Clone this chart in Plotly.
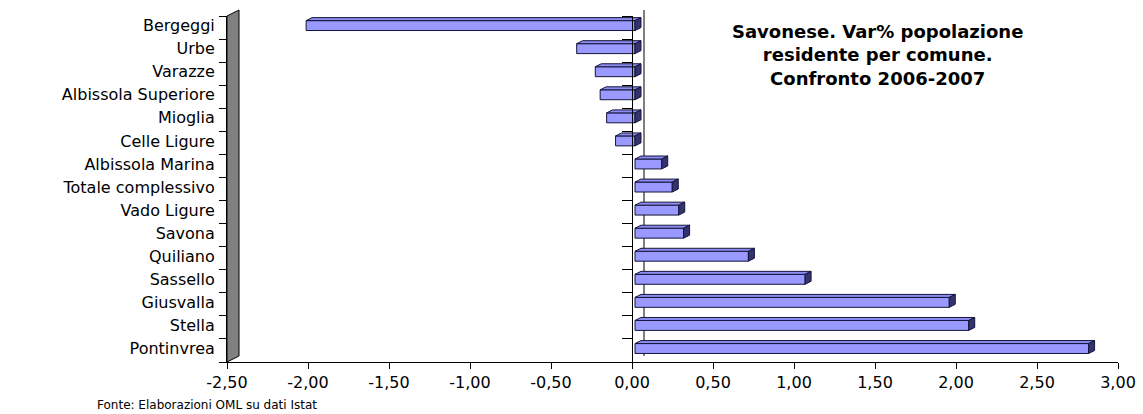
import plotly.graph_objects as go

# Data
comuni = ["Bergeggi", "Urbe", "Varazze", "Albissola Superiore", "Mioglia",
          "Celle Ligure", "Albissola Marina", "Totale complessivo", "Vado Ligure",
          "Savona", "Quiliano", "Sassello", "Giusvalla", "Stella", "Pontinvrea"]
var_pct = [-2.03, -0.36, -0.245, -0.215, -0.175, -0.12, 0.165, 0.23, 0.27,
           0.30, 0.70, 1.05, 1.94, 2.06, 2.80]
x_ticks = [-2.5, -2.0, -1.5, -1.0, -0.5, 0.0, 0.5, 1.0, 1.5, 2.0, 2.5, 3.0]
x_tick_labels = ["-2,50", "-2,00", "-1,50", "-1,00", "-0,50", "0,00",
                 "0,50", "1,00", "1,50", "2,00", "2,50", "3,00"]

title_text = "<b>Savonese. Var% popolazione<br>residente per comune.<br>Confronto 2006-2007</b>"
source_text = "Fonte: Elaborazioni OML su dati Istat"

# Geometry of the pseudo-3D look
W, H = 1143, 414
ML, MR, MT, MB = 227, 25, 16, 52
plot_w = W - ML - MR
plot_h = H - MT - MB
xmin, xmax = x_ticks[0], x_ticks[-1]
px_per_unit = plot_w / (xmax - xmin)
n = len(comuni)
px_per_cat = plot_h / n

wall_dx_px, wall_dy_px = 12, 6     # depth of back wall
bar_dx_px, bar_dy_px = 6, 3        # depth of each bar
plane_px = 3                       # bars sit slightly behind the front plane

ypos = list(range(n))
bar_w = 0.43
bar_off = -0.30
dx = bar_dx_px / px_per_unit
dy = bar_dy_px / px_per_cat
shift = plane_px / px_per_unit

FRONT = "#9999FF"
SIDE = "#333370"
TOP = "#8c8cf0"
EDGE = "#15153a"

fig = go.Figure()

# carrier for the labelled front axes
fig.add_trace(go.Scatter(
    x=var_pct, y=ypos, mode="none", xaxis="x", yaxis="y",
    showlegend=False, hoverinfo="skip",
))

fig.add_trace(go.Bar(
    x=var_pct, y=ypos, orientation="h", width=bar_w, offset=bar_off,
    marker=dict(color=FRONT, line=dict(color=EDGE, width=1)),
    xaxis="x2", yaxis="y", showlegend=False, hoverinfo="skip",
))

# top and side faces of each bar
top_x, top_y, side_x, side_y = [], [], [], []
for v, y in zip(var_pct, ypos):
    x0, x1 = min(0, v), max(0, v)
    yt = y + bar_off
    yb = yt + bar_w
    top_x += [x0, x0 + dx, x1 + dx, x1, x0, None]
    top_y += [yt, yt - dy, yt - dy, yt, yt, None]
    side_x += [x1, x1 + dx, x1 + dx, x1, x1, None]
    side_y += [yt, yt - dy, yb - dy, yb, yt, None]

fig.add_trace(go.Scatter(
    x=top_x, y=top_y, mode="lines", fill="toself", fillcolor=TOP,
    line=dict(color=EDGE, width=1), xaxis="x2", yaxis="y2",
    showlegend=False, hoverinfo="skip",
))
fig.add_trace(go.Scatter(
    x=side_x, y=side_y, mode="lines", fill="toself", fillcolor=SIDE,
    line=dict(color=EDGE, width=1), xaxis="x2", yaxis="y2",
    showlegend=False, hoverinfo="skip",
))

yrange = [n - 0.5, -0.5]
boundaries = [i - 0.5 for i in range(n + 1)]
label_pos = [y + bar_off + bar_w / 2 for y in ypos]
zero_frac = (0 - xmin) / (xmax - xmin)

font_family = "DejaVu Sans"

fig.update_layout(
    width=W, height=H,
    margin=dict(l=ML, r=MR, t=MT, b=MB, pad=0),
    paper_bgcolor="white", plot_bgcolor="white",
    showlegend=False,
    font=dict(family=font_family, color="black", size=16),
    xaxis=dict(
        range=[xmin, xmax], tickmode="array", tickvals=x_ticks, ticktext=x_tick_labels,
        ticks="outside", ticklen=6, tickcolor="black", tickwidth=1,
        showline=True, linecolor="black", linewidth=1,
        showgrid=False, zeroline=False, tickfont=dict(size=16),
        automargin=False,
    ),
    xaxis2=dict(
        range=[xmin - shift, xmax - shift], overlaying="x", visible=False,
        showgrid=False, zeroline=False,
    ),
    yaxis=dict(
        range=yrange, tickmode="array", tickvals=label_pos, ticktext=comuni,
        ticks="", showline=True, linecolor="black", linewidth=1,
        showgrid=False, zeroline=False, tickfont=dict(size=16),
        ticklabelstandoff=8, automargin=False,
        minor=dict(tickmode="array", tickvals=boundaries, ticks="outside",
                   ticklen=7, tickcolor="black", tickwidth=1, showgrid=False),
    ),
    yaxis2=dict(
        range=yrange, overlaying="y", anchor="free", position=zero_frac,
        side="left", showticklabels=False, ticks="",
        showline=True, linecolor="black", linewidth=1,
        showgrid=False, zeroline=False, automargin=False,
        minor=dict(tickmode="array", tickvals=boundaries, ticks="outside",
                   ticklen=10, tickcolor="black", tickwidth=1, showgrid=False),
    ),
)

# grey side wall on the left and zero line on the back plane
wx = wall_dx_px / plot_w
wy = wall_dy_px / plot_h
fig.add_shape(
    type="path", xref="paper", yref="paper",
    path=f"M 0,0 L 0,1 L {wx},{1 + wy} L {wx},{wy} Z",
    fillcolor="#808080", line=dict(color="black", width=1), layer="above",
)
fig.add_shape(
    type="line", xref="paper", yref="paper",
    x0=zero_frac + wx, x1=zero_frac + wx, y0=wy, y1=1 + wy,
    line=dict(color="black", width=1), layer="below",
)

fig.add_annotation(
    text=title_text, xref="paper", yref="paper",
    x=(877 - ML) / plot_w, y=(H - MB - 55) / plot_h,
    xanchor="center", yanchor="middle", showarrow=False, align="center",
    font=dict(family=font_family, size=18, color="black"),
)
fig.add_annotation(
    text=source_text, xref="paper", yref="paper",
    x=(95 - ML) / plot_w, y=-(405 - (H - MB)) / plot_h,
    xanchor="left", yanchor="middle", showarrow=False,
    font=dict(family=font_family, size=12, color="black"),
)

fig.write_html("out.html")
